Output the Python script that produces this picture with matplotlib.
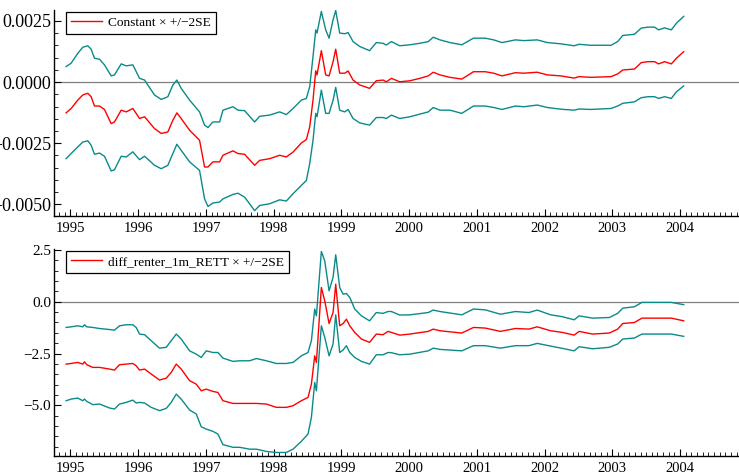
import matplotlib
matplotlib.use("Agg")
import matplotlib.pyplot as plt
from matplotlib.ticker import MultipleLocator, FuncFormatter
import numpy as np

plt.rcParams['font.family'] = ['Liberation Serif', 'DejaVu Serif']

#%% data (decimal years)

# top panel: Constant
t_top = [1994.936, 1995.010, 1995.108, 1995.182, 1995.256, 1995.305, 1995.355, 1995.429,
         1995.502, 1995.601, 1995.650, 1995.749, 1995.823, 1995.921, 1996.020, 1996.094,
         1996.241, 1996.340, 1996.438, 1996.512, 1996.571, 1996.635, 1996.759, 1996.906,
         1996.980, 1997.030, 1997.103, 1997.202, 1997.251, 1997.399, 1997.473, 1997.571,
         1997.719, 1997.793, 1997.941, 1998.089, 1998.187, 1998.286, 1998.409, 1998.483,
         1998.532, 1998.581, 1998.621, 1998.640, 1998.704, 1998.768, 1998.818, 1998.877,
         1998.916, 1998.975, 1999.049, 1999.099, 1999.172, 1999.271,
         1999.416, 1999.515, 1999.614, 1999.663, 1999.738, 1999.861, 2000.010, 2000.158,
         2000.282, 2000.356, 2000.455, 2000.604, 2000.777, 2000.950, 2001.124, 2001.248,
         2001.371, 2001.569, 2001.693, 2001.891, 2002.040, 2002.238, 2002.436, 2002.510,
         2002.683, 2002.980, 2003.079, 2003.153, 2003.327, 2003.426, 2003.525, 2003.624,
         2003.683, 2003.772, 2003.871, 2003.946, 2004.054]

const_hi = [0.00063, 0.00077, 0.00117, 0.00142, 0.00148, 0.00134, 0.00097, 0.00093,
            0.00070, 0.00025, 0.00029, 0.00074, 0.00066, 0.00070, 0.00015, 0.00008,
            -0.00053, -0.00071, -0.00060, -0.00012, 0.00008, -0.00026, -0.00074, -0.00122,
            -0.00176, -0.00186, -0.00163, -0.00163, -0.00115, -0.00101, -0.00115, -0.00117,
            -0.00163, -0.00140, -0.00135, -0.00122, -0.00133, -0.00108, -0.00074, -0.00067,
            -0.00019, 0.00104, 0.00213, 0.00200, 0.00288, 0.00213, 0.00179, 0.00254,
            0.00292, 0.00200, 0.00197, 0.00202, 0.00165, 0.00145,
            0.00128, 0.00161, 0.00158, 0.00151, 0.00165, 0.00148, 0.00152, 0.00158,
            0.00165, 0.00183, 0.00172, 0.00161, 0.00152, 0.00179, 0.00179, 0.00172,
            0.00161, 0.00172, 0.00169, 0.00172, 0.00161, 0.00156, 0.00148, 0.00154,
            0.00150, 0.00150, 0.00165, 0.00190, 0.00195, 0.00220, 0.00224, 0.00224,
            0.00213, 0.00221, 0.00213, 0.00240, 0.00268]

const_mid = [-0.00126, -0.00108, -0.00074, -0.00053, -0.00046, -0.00060, -0.00098, -0.00098,
             -0.00112, -0.00170, -0.00163, -0.00115, -0.00122, -0.00108, -0.00149, -0.00142,
             -0.00190, -0.00210, -0.00204, -0.00156, -0.00126, -0.00149, -0.00197, -0.00238,
             -0.00347, -0.00347, -0.00326, -0.00326, -0.00299, -0.00281, -0.00292, -0.00295,
             -0.00340, -0.00320, -0.00313, -0.00299, -0.00306, -0.00286, -0.00249, -0.00235,
             -0.00183, -0.00074, 0.00046, 0.00029, 0.00128, 0.00029, 0.00025, 0.00083,
             0.00134, 0.00036, 0.00036, 0.00045, 0.00008, -0.00012,
             -0.00026, 0.00005, 0.00008, 0.00001, 0.00015, 0.00001, 0.00005, 0.00015,
             0.00025, 0.00040, 0.00029, 0.00019, 0.00012, 0.00042, 0.00042, 0.00036,
             0.00025, 0.00038, 0.00036, 0.00040, 0.00029, 0.00025, 0.00016, 0.00022,
             0.00019, 0.00022, 0.00033, 0.00049, 0.00053, 0.00079, 0.00083, 0.00083,
             0.00074, 0.00083, 0.00074, 0.00097, 0.00124]

const_lo = [-0.00313, -0.00292, -0.00265, -0.00245, -0.00240, -0.00258, -0.00295, -0.00290,
            -0.00303, -0.00363, -0.00358, -0.00303, -0.00306, -0.00285, -0.00317, -0.00303,
            -0.00340, -0.00354, -0.00340, -0.00292, -0.00254, -0.00279, -0.00326, -0.00361,
            -0.00477, -0.00508, -0.00494, -0.00490, -0.00477, -0.00459, -0.00454, -0.00470,
            -0.00525, -0.00504, -0.00497, -0.00481, -0.00486, -0.00456, -0.00422, -0.00402,
            -0.00333, -0.00238, -0.00128, -0.00142, -0.00033, -0.00128, -0.00128, -0.00074,
            -0.00022, -0.00115, -0.00122, -0.00112, -0.00149, -0.00167,
            -0.00176, -0.00145, -0.00145, -0.00149, -0.00135, -0.00149, -0.00142, -0.00131,
            -0.00122, -0.00104, -0.00115, -0.00115, -0.00128, -0.00098, -0.00098, -0.00104,
            -0.00112, -0.00098, -0.00101, -0.00094, -0.00104, -0.00111, -0.00115, -0.00110,
            -0.00112, -0.00108, -0.00098, -0.00087, -0.00081, -0.00064, -0.00060, -0.00060,
            -0.00067, -0.00060, -0.00067, -0.00040, -0.00016]

# bottom panel: diff_renter_1m_RETT
t_bot = [1994.936, 1995.010, 1995.108, 1995.182, 1995.207, 1995.241, 1995.330, 1995.429,
         1995.576, 1995.650, 1995.724, 1995.823, 1995.921, 1995.970, 1996.020, 1996.094,
         1996.192, 1996.315, 1996.414, 1996.488, 1996.562, 1996.635, 1996.759, 1996.857,
         1996.931, 1997.005, 1997.103, 1997.177, 1997.251, 1997.399, 1997.498, 1997.645,
         1997.744, 1997.892, 1998.039, 1998.187, 1998.286, 1998.409, 1998.507, 1998.557,
         1998.606, 1998.631, 1998.704, 1998.754, 1998.818, 1998.877, 1998.916, 1998.975,
         1999.025, 1999.074, 1999.123, 1999.197, 1999.296,
         1999.416, 1999.515, 1999.614, 1999.688, 1999.738, 1999.861, 2000.010, 2000.282,
         2000.356, 2000.455, 2000.777, 2000.950, 2001.124, 2001.347, 2001.569, 2001.767,
         2001.891, 2002.089, 2002.262, 2002.436, 2002.510, 2002.708, 2002.955, 2003.079,
         2003.153, 2003.327, 2003.436, 2003.574, 2003.871, 2004.054]

rett_hi = [-1.24, -1.21, -1.16, -1.21, -1.11, -1.21, -1.24, -1.29,
           -1.34, -1.37, -1.16, -1.11, -1.11, -1.24, -1.56, -1.59,
           -1.88, -2.24, -2.20, -1.88, -1.56, -1.80, -2.37, -2.53,
           -2.69, -2.37, -2.45, -2.45, -2.72, -2.88, -2.85, -2.85,
           -2.74, -2.85, -2.98, -2.98, -2.93, -2.61, -2.45, -1.88,
           -0.35, -0.68, 2.43, 1.98, 0.53, 1.18, 2.27, 0.69,
           0.37, 0.40, 0.21, -0.35, -0.68,
           -0.92, -0.52, -0.56, -0.47, -0.47, -0.64, -0.63, -0.52,
           -0.40, -0.47, -0.63, -0.35, -0.39, -0.60, -0.47, -0.52,
           -0.40, -0.63, -0.72, -0.87, -0.68, -0.79, -0.76, -0.56,
           -0.31, -0.24, -0.03, -0.03, -0.03, -0.14]

rett_mid = [-3.01, -2.98, -2.93, -3.01, -2.90, -3.04, -3.17, -3.17,
            -3.25, -3.30, -3.04, -3.01, -2.98, -3.09, -3.30, -3.25,
            -3.49, -3.78, -3.69, -3.41, -3.01, -3.25, -3.81, -3.98,
            -4.30, -4.22, -4.33, -4.38, -4.78, -4.91, -4.91, -4.91,
            -4.91, -4.94, -5.10, -5.10, -5.02, -4.78, -4.62, -3.98,
            -2.61, -2.93, 0.69, 0.05, -1.05, -0.52, 0.85, -1.16,
            -1.05, -0.84, -1.16, -1.48, -1.80,
            -1.96, -1.56, -1.59, -1.43, -1.48, -1.61, -1.56, -1.43,
            -1.32, -1.40, -1.51, -1.24, -1.27, -1.43, -1.29, -1.32,
            -1.21, -1.40, -1.48, -1.61, -1.43, -1.56, -1.51, -1.32,
            -1.05, -1.00, -0.79, -0.79, -0.79, -0.92]

rett_lo = [-4.78, -4.70, -4.65, -4.78, -4.70, -4.81, -4.97, -4.94,
           -5.13, -5.18, -4.94, -4.86, -4.75, -4.89, -4.86, -4.89,
           -5.10, -5.26, -5.15, -4.86, -4.46, -4.70, -5.23, -5.42,
           -6.04, -6.15, -6.26, -6.39, -6.90, -7.03, -7.03, -7.12,
           -7.12, -7.23, -7.28, -7.28, -7.12, -6.74, -6.39, -5.59,
           -3.90, -4.30, -1.16, -1.72, -2.61, -2.04, -0.63, -2.45,
           -2.33, -2.12, -2.45, -2.69, -2.88,
           -3.01, -2.56, -2.56, -2.45, -2.46, -2.56, -2.53, -2.37,
           -2.24, -2.30, -2.37, -2.12, -2.12, -2.24, -2.12, -2.12,
           -2.01, -2.14, -2.25, -2.37, -2.17, -2.27, -2.20, -2.04,
           -1.80, -1.75, -1.56, -1.56, -1.56, -1.67]

labels = ["Constant \u00d7 +/\u22122SE", "diff_renter_1m_RETT \u00d7 +/\u22122SE"]

#%% plot

teal = '#0a8a8a'
fig = plt.figure(figsize=(7.39, 4.74), dpi=100)
ax1 = fig.add_axes([54 / 739, 258 / 474, 685 / 739, 206 / 474])
ax2 = fig.add_axes([54 / 739, 18 / 474, 685 / 739, 207 / 474])

panels = [(ax1, t_top, const_mid, const_hi, const_lo, (-0.00547, 0.00294), 0.0025, 0.0005, 4),
          (ax2, t_bot, rett_mid, rett_hi, rett_lo, (-7.45, 2.55), 2.5, 0.5, 1)]

for i, (ax, t, mid, hi, lo, ylim, major, minor, dec) in enumerate(panels):
    ax.axhline(0, color='#808080', lw=0.9, zorder=1)
    ax.plot(t, hi, color=teal, lw=1.0, zorder=2)
    ax.plot(t, lo, color=teal, lw=1.0, zorder=2)
    ax.plot(t, mid, color='red', lw=1.0, zorder=3, label=labels[i])
    ax.set_xlim(1994.757, 2004.87)
    ax.set_ylim(*ylim)
    for s in ['top', 'right']:
        ax.spines[s].set_visible(False)
    for s in ['left', 'bottom']:
        ax.spines[s].set_linewidth(1.0)
    ax.xaxis.set_major_locator(MultipleLocator(1))
    ax.xaxis.set_minor_locator(MultipleLocator(1 / 12))
    ax.xaxis.set_major_formatter(FuncFormatter(lambda v, p: "%d" % round(v)))
    ax.yaxis.set_major_locator(MultipleLocator(major))
    ax.yaxis.set_minor_locator(MultipleLocator(minor))
    ax.yaxis.set_major_formatter(FuncFormatter(
        lambda v, p, d=dec: ("%.*f" % (d, v)).replace('-', '\u2212')))
    ax.tick_params(which='major', direction='in', length=5, width=0.8)
    ax.tick_params(which='minor', direction='in', length=3, width=0.6)
    ax.tick_params(axis='x', labelsize=10.5, pad=4)
    ax.tick_params(axis='y', labelsize=13 if i == 0 else 11, pad=2)
    leg = ax.legend(loc='upper left', bbox_to_anchor=(0.018, 0.99), borderaxespad=0,
                    fontsize=9.6, fancybox=False, framealpha=1, edgecolor='black',
                    handlelength=2.3, handletextpad=0.5, borderpad=0.35)
    leg.get_frame().set_linewidth(0.9)

plt.savefig("out.png", dpi=100)
